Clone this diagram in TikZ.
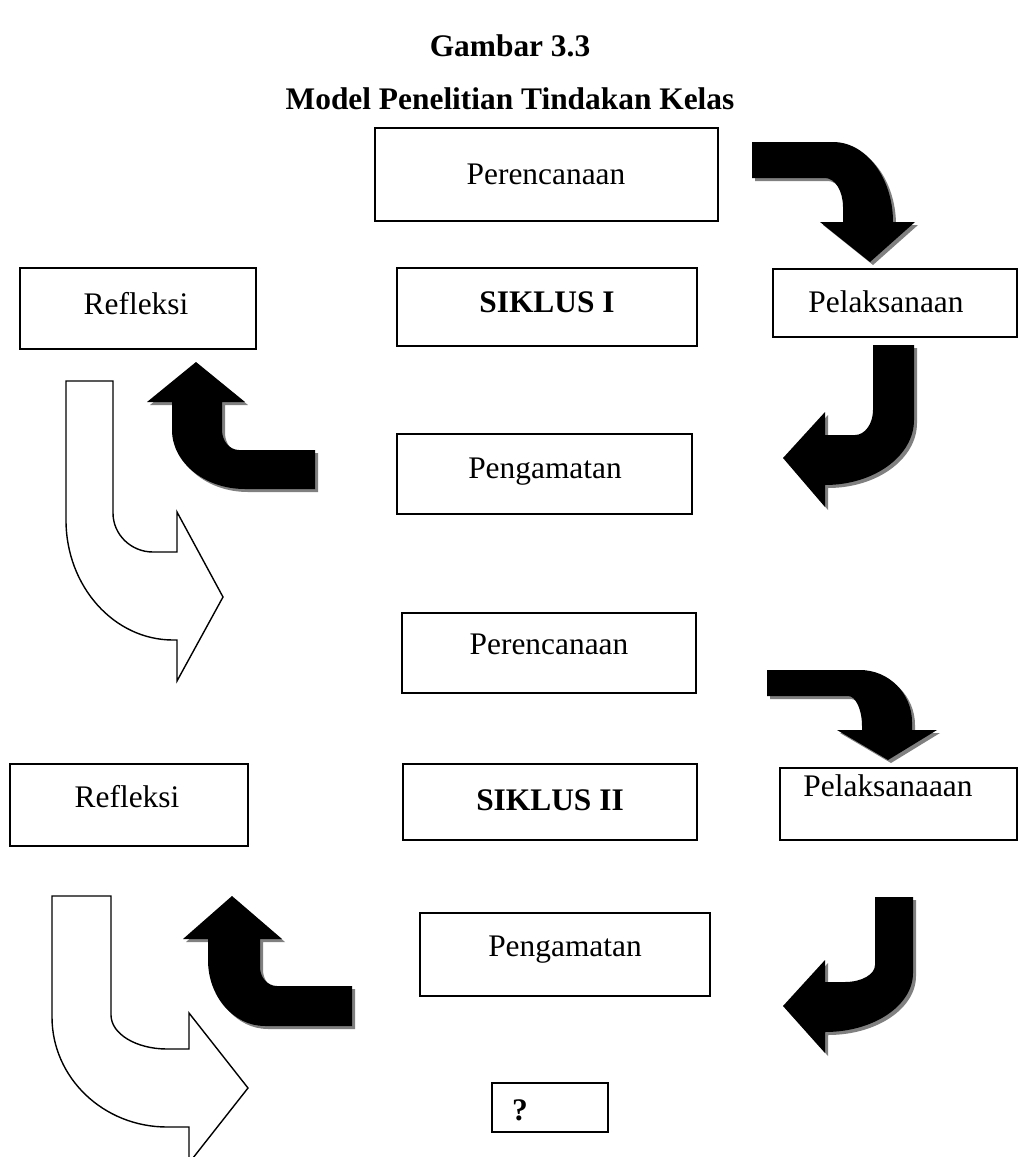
\documentclass[tikz,border=0pt]{standalone}
\usepackage{fontspec}
\setmainfont{Liberation Serif}
\definecolor{shadowgray}{RGB}{128,128,128}
\newcommand\pathA{(752,142) -- (833,142) .. controls (866.1,142) and (893,177.8) .. (893,222) -- (915,222) -- (870,262) -- (820,222) -- (843,222) -- (843,207) .. controls (843,191) and (835,178) .. (825,178) -- (752,178) -- cycle}
\newcommand\pathB{(873,345) -- (914,345) -- (914,420) .. controls (914,455.9) and (874.2,485) .. (825,485) -- (825,507) -- (783,458) -- (825,412) -- (825,435) -- (855,435) .. controls (864.9,435) and (873,423.8) .. (873,410) -- cycle}
\newcommand\pathC{(315,450) -- (315,489) -- (245,489) .. controls (204.7,489) and (172,462.6) .. (172,430) -- (172,402) -- (147,402) -- (196,362) -- (245,402) -- (222,402) -- (222,430) .. controls (222,441) and (229.6,450) .. (239,450) -- cycle}
\newcommand\pathD{(66,381) -- (113,381) -- (113,513) .. controls (113,534.5) and (130.9,552) .. (153,552) -- (177,552) -- (177,512) -- (223,597) -- (177,681) -- (177,640) -- (173,640) .. controls (113.9,640) and (66,586.3) .. (66,520) -- cycle}
\newcommand\pathE{(767,670) -- (860,670) .. controls (888.7,670) and (912,693.3) .. (912,722) -- (912,730) -- (937,730) -- (888,760) -- (837,730) -- (862,730) -- (862,726) .. controls (862,709.4) and (855.7,696) .. (848,696) -- (767,696) -- cycle}
\newcommand\pathF{(875,897) -- (913,897) -- (913,973) .. controls (913,1005.6) and (873.6,1032) .. (825,1032) -- (825,1053) -- (783,1006) -- (825,960) -- (825,982) -- (845,982) .. controls (861.6,982) and (875,974.4) .. (875,965) -- cycle}
\newcommand\pathG{(352,986) -- (352,1026) -- (265,1026) .. controls (233.5,1026) and (208,996.5) .. (208,960) -- (208,939) -- (183,939) -- (232,896) -- (282,939) -- (260,939) -- (260,967) .. controls (260,977.5) and (267.6,986) .. (277,986) -- cycle}
\newcommand\pathH{(52,896) -- (111,896) -- (111,1015) .. controls (111,1033.8) and (136.1,1049) .. (167,1049) -- (189,1049) -- (189,1013) -- (248,1088) -- (189,1163) -- (189,1127) -- (167,1127) .. controls (103.5,1127) and (52,1077.8) .. (52,1017) -- cycle}
\begin{document}
\begin{tikzpicture}[x=0.5pt,y=-0.5pt,
  box/.style={draw, line width=0.7pt, rectangle, inner sep=0pt, outer sep=0pt},
  lab/.style={font=\fontsize{15.7}{18}\selectfont, anchor=base, inner sep=0pt},
  blab/.style={font=\fontsize{15.7}{18}\selectfont\bfseries, anchor=base, inner sep=0pt},
  shade/.style={fill=shadowgray, shift={(3,3)}},
  solid arrow/.style={fill=black},
  hollow arrow/.style={draw=black, line width=0.7pt, fill=white, line join=miter}]
\useasboundingbox (0,0) rectangle (1019,1157);
\fill[white] (0,0) rectangle (1019,1157);
% titles
\node[blab] (title1) at (510,56) {Gambar 3.3};
\node[blab] (title2) at (510,109) {Model Penelitian Tindakan Kelas};
% boxes
\node[box, minimum width=171.5pt, minimum height=46.5pt] (per1) at (546.5,174.5) {};
\node[box, minimum width=118pt, minimum height=40.5pt] (ref1) at (138,308.5) {};
\node[box, minimum width=150pt, minimum height=39pt] (sik1) at (547,307) {};
\node[box, minimum width=122pt, minimum height=34pt] (pel1) at (895,303) {};
\node[box, minimum width=147.5pt, minimum height=40pt] (pen1) at (544.5,474) {};
\node[box, minimum width=147pt, minimum height=40pt] (per2) at (549,653) {};
\node[box, minimum width=119pt, minimum height=41pt] (ref2) at (129,805) {};
\node[box, minimum width=147pt, minimum height=38pt] (sik2) at (550,802) {};
\node[box, minimum width=118.5pt, minimum height=36pt] (pel2) at (898.5,804) {};
\node[box, minimum width=145pt, minimum height=41.5pt] (pen2) at (565,954.5) {};
\node[box, minimum width=58pt, minimum height=24.5pt] (qbox) at (550,1107.5) {};
% texts
\node[lab] (tper1) at (546,184) {Perencanaan};
\node[lab] (tref1) at (136,314) {Refleksi};
\node[blab] (tsik1) at (547,312) {SIKLUS I};
\node[lab] (tpel1) at (886,312) {Pelaksanaan};
\node[lab] (tpen1) at (545,478) {Pengamatan};
\node[lab] (tper2) at (549,654) {Perencanaan};
\node[lab] (tref2) at (127,807) {Refleksi};
\node[blab] (tsik2) at (550,810) {SIKLUS II};
\node[lab] (tpel2) at (888,796) {Pelaksanaaan};
\node[lab] (tpen2) at (565,956) {Pengamatan};
\node[blab] (tq) at (520,1120) {?};
% black curved block arrows with shadow
\fill[shade] \pathA; \fill[solid arrow] \pathA;
\fill[shade] \pathB; \fill[solid arrow] \pathB;
\fill[shade] \pathC; \fill[solid arrow] \pathC;
\fill[shade] \pathE; \fill[solid arrow] \pathE;
\fill[shade] \pathF; \fill[solid arrow] \pathF;
\fill[shade] \pathG; \fill[solid arrow] \pathG;
% hollow arrows
\filldraw[hollow arrow] \pathD;
\filldraw[hollow arrow] \pathH;
\end{tikzpicture}
\end{document}
